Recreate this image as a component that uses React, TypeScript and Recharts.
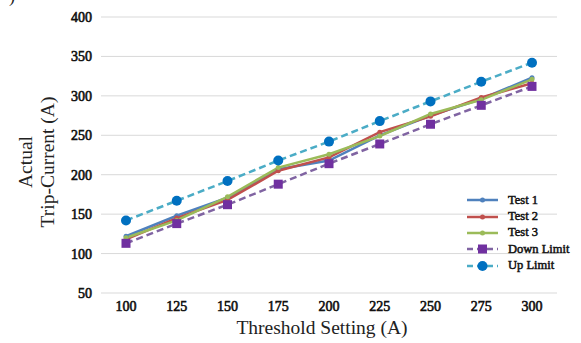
import { LineChart, Line, XAxis, YAxis, CartesianGrid, Label } from 'recharts'

const SETTINGS = ['100', '125', '150', '175', '200', '225', '250', '275', '300']
const TEST_1 = [122, 148, 171, 207, 218, 250, 275, 296, 323]
const TEST_2 = [118, 145, 168, 205, 222, 254, 274, 298, 316]
const TEST_3 = [120, 142, 172, 209, 226, 249, 277, 295, 321]
const DOWN_LIMIT = [113, 138, 162, 188, 214, 239, 264, 288, 312]
const UP_LIMIT = [142, 167, 192, 218, 242, 268, 293, 318, 342]
const Y_TICKS = [50, 100, 150, 200, 250, 300, 350, 400]

// only the regular face of the serif is available, so bold is faked with a thin stroke
const SERIF = 'Liberation Serif'

type Marker = 'dot' | 'square' | 'circle'

interface Series {
  key: string
  name: string
  values: number[]
  stroke: string
  fill: string
  dash?: string
  marker: Marker
}

const SERIES: Series[] = [
  { key: 't1', name: 'Test 1', values: TEST_1, stroke: '#4F81BD', fill: '#4F81BD', marker: 'dot' },
  { key: 't2', name: 'Test 2', values: TEST_2, stroke: '#C0504D', fill: '#C0504D', marker: 'dot' },
  { key: 't3', name: 'Test 3', values: TEST_3, stroke: '#9BBB59', fill: '#9BBB59', marker: 'dot' },
  { key: 'down', name: 'Down Limit', values: DOWN_LIMIT, stroke: '#8064A2', fill: '#7030A0', dash: '7 4', marker: 'square' },
  { key: 'up', name: 'Up Limit', values: UP_LIMIT, stroke: '#4BACC6', fill: '#0070C0', dash: '7 4', marker: 'circle' },
]

const data = SETTINGS.map((setting, i) => {
  const row: Record<string, string | number> = { setting }
  SERIES.forEach(s => { row[s.key] = s.values[i] })
  return row
})

const tickStyle = { fontFamily: SERIF, fontSize: 14, fontWeight: 400, fill: '#111', stroke: '#111', strokeWidth: 0.6 }

function MarkerShape({ kind, cx, cy, fill }: { kind: Marker; cx: number; cy: number; fill: string }) {
  if (kind === 'square') return <rect x={cx - 4.5} y={cy - 4.5} width={9} height={9} fill={fill} />
  if (kind === 'circle') return <circle cx={cx} cy={cy} r={5} fill={fill} />
  return <circle cx={cx} cy={cy} r={2.5} fill={fill} />
}

function makeDot(s: Series) {
  return (props: any) => {
    const { cx, cy, index } = props
    if (cx == null || cy == null) return <g key={`${s.key}-${index}`} />
    return <MarkerShape key={`${s.key}-${index}`} kind={s.marker} cx={cx} cy={cy} fill={s.fill} />
  }
}

function YTitle(props: any) {
  const vb = props.viewBox || { y: 17, height: 276 }
  const cy = vb.y + vb.height / 2 + 7
  return (
    <g style={{ fontFamily: SERIF, fontSize: 19.5 }} fill="#222">
      <text x={25} y={cy} textAnchor="middle" transform={`rotate(-90 25 ${cy})`} dy="0.35em">Actual</text>
      <text x={47} y={cy} textAnchor="middle" transform={`rotate(-90 47 ${cy})`} dy="0.35em">Trip-Current (A)</text>
    </g>
  )
}

function LegendBox() {
  return (
    <div style={{ position: 'absolute', left: 466, top: 192, fontFamily: SERIF, fontSize: 12.5, color: '#111', WebkitTextStroke: '0.5px #111' }}>
      {SERIES.map(s => (
        <div key={s.key} style={{ display: 'flex', alignItems: 'center', height: 16.4 }}>
          <svg width={33} height={12} style={{ display: 'block' }}>
            <line x1={1} y1={6} x2={32} y2={6} stroke={s.stroke} strokeWidth={2.5} strokeDasharray={s.dash ? '6 4' : undefined} />
            <MarkerShape kind={s.marker} cx={16.5} cy={6} fill={s.fill} />
          </svg>
          <span style={{ marginLeft: 9 }}>{s.name}</span>
        </div>
      ))}
    </div>
  )
}

export default function App() {
  return (
    <div style={{ position: 'absolute', left: 0, top: 0, width: 581, height: 343, background: '#fff', overflow: 'hidden', fontFamily: SERIF }}>
      <span style={{ position: 'absolute', left: 9, top: -14, fontSize: 18, color: '#222' }}>)</span>
      <LineChart width={581} height={343} data={data} margin={{ top: 17, right: 24, bottom: 0, left: 0 }} style={{ fontFamily: SERIF }}>
        <CartesianGrid vertical={false} stroke="#d9d9d9" strokeWidth={1} />
        <XAxis
          dataKey="setting"
          height={50}
          axisLine={false}
          tickLine={false}
          interval={0}
          padding={{ left: 25, right: 25 }}
          tick={{ ...tickStyle, style: tickStyle }}
        >
          <Label value="Threshold Setting (A)" position="insideBottom" offset={9} dx={-7} style={{ fontFamily: SERIF, fontSize: 19.5, fill: '#222' }} />
        </XAxis>
        <YAxis
          width={101}
          domain={[50, 400]}
          ticks={Y_TICKS}
          interval={0}
          axisLine={false}
          tickLine={false}
          tickMargin={3}
          tick={{ ...tickStyle, style: tickStyle }}
          label={(props: any) => <YTitle {...props} />}
        />
        {SERIES.map(s => (
          <Line
            key={s.key}
            type="linear"
            dataKey={s.key}
            name={s.name}
            stroke={s.stroke}
            strokeWidth={2.5}
            strokeDasharray={s.dash}
            dot={makeDot(s)}
            activeDot={false}
            isAnimationActive={false}
          />
        ))}
      </LineChart>
      <LegendBox />
    </div>
  )
}
